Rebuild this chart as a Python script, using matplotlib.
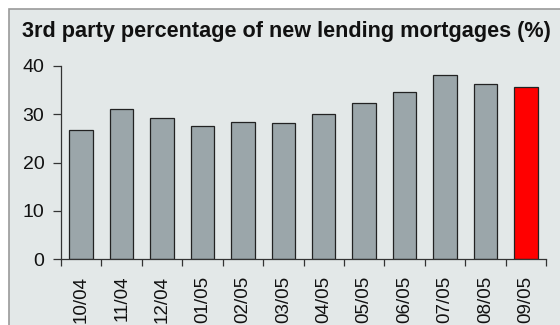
import matplotlib.pyplot as plt
from matplotlib.patches import Rectangle

months = ["10/04", "11/04", "12/04", "01/05", "02/05", "03/05",
          "04/05", "05/05", "06/05", "07/05", "08/05", "09/05"]
pct = [26.7, 31.0, 29.3, 27.6, 28.4, 28.1, 30.1, 32.4, 34.7, 38.1, 36.3, 35.7]
highlight = "09/05"

plt.rcParams['font.family'] = ['Liberation Sans', 'DejaVu Sans']

fig = plt.figure(figsize=(5.6, 3.25), dpi=100)
fig.patch.set_facecolor('white')

# grey panel behind the chart
panel = Rectangle((9 / 560, -0.1), 1.1, 1.1 - 9 / 325,
                  transform=fig.transFigure, facecolor='#e3e8e8',
                  edgecolor='#9a9a9a', linewidth=1.2, zorder=-10)
fig.patches.append(panel)

fig.text(22 / 560, 1 - 31 / 325, "3rd party percentage of new lending mortgages (%)",
         fontsize=15.6, fontweight='bold', va='center', ha='left', color='#111111')

ax = fig.add_axes([61 / 560, 1 - 259 / 325, 485 / 560, 193 / 325])
ax.set_facecolor('none')
ax.set_zorder(5)

colors = ['#ff0000' if m == highlight else '#9ba6aa' for m in months]
x = range(len(months))
ax.bar(x, pct, width=0.58, color=colors, edgecolor='#222222', linewidth=0.9)

ax.set_xlim(-0.5, len(months) - 0.5)
ax.set_ylim(0, 40)
ax.set_yticks([0, 10, 20, 30, 40])
ax.tick_params(axis='y', labelsize=14, length=6, width=0.9, color='#333333', pad=6,
               labelcolor='#111111')

ax.set_xticks([i - 0.5 for i in range(len(months) + 1)])
ax.set_xticklabels([])
ax.set_xticks(list(x), minor=True)
ax.set_xticklabels(months, minor=True, rotation=90, fontsize=13.5, color='#111111')
ax.tick_params(axis='x', which='major', length=5, width=0.9, color='#333333')
ax.tick_params(axis='x', which='minor', length=0, pad=12)

for s in ['top', 'right']:
    ax.spines[s].set_visible(False)
for s in ['left', 'bottom']:
    ax.spines[s].set_color('#333333')
    ax.spines[s].set_linewidth(0.9)

fig.savefig('out.png', dpi=100)
